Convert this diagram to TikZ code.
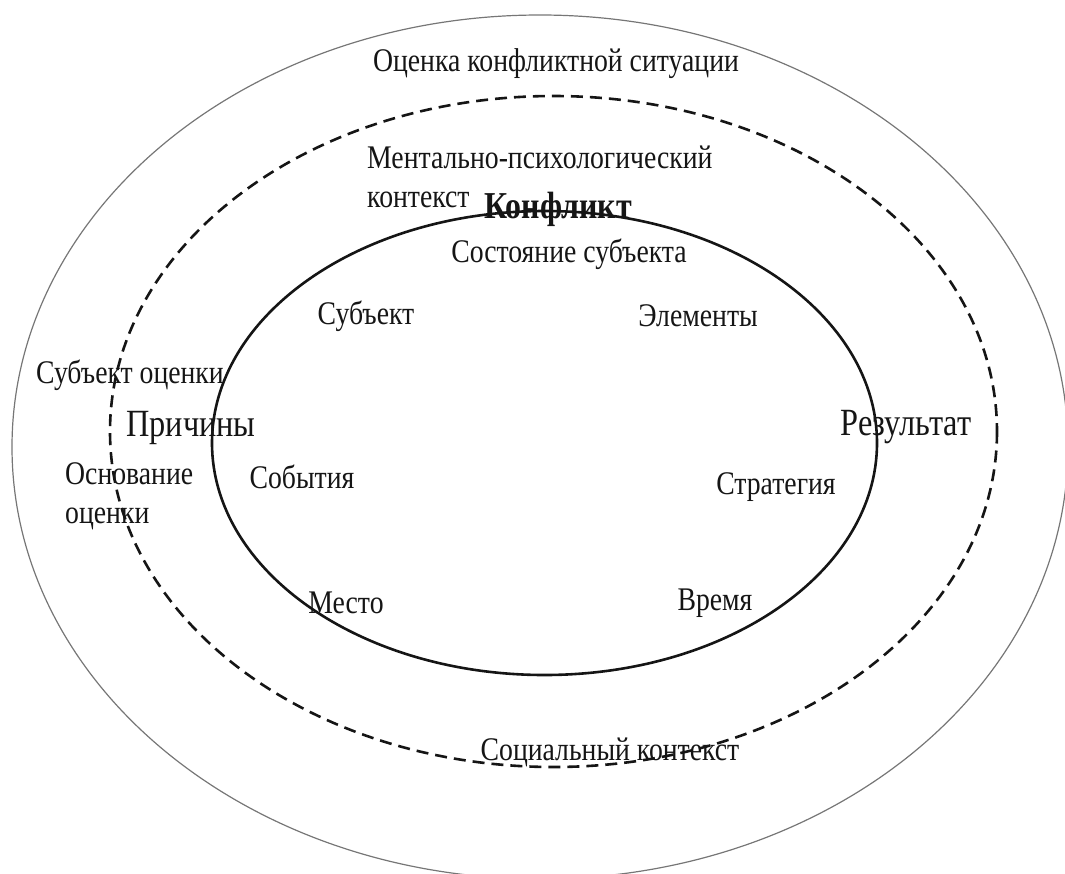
\documentclass[tikz,border=0pt]{standalone}
\usepackage{fontspec}
\setmainfont{Liberation Serif}[FakeStretch=0.84]
\definecolor{Ink}{HTML}{151515}
\definecolor{Rim}{HTML}{767676}
\tikzset{
  every node/.style={text=Ink, inner sep=0pt},
  lbl/.style={font=\fontsize{33}{39}\selectfont},
  biglbl/.style={font=\fontsize{38.5}{44}\selectfont},
  boldlbl/.style={font=\fontsize{38}{44}\selectfont\bfseries},
  outerring/.style={draw=Rim, line width=1.2pt},
  midring/.style={draw=Ink, line width=2.6pt, dash pattern=on 12pt off 7pt},
  corering/.style={draw=Ink, line width=2.6pt},
}

\begin{document}
\begin{tikzpicture}[x=1pt,y=-1pt]
  \useasboundingbox (0,0) rectangle (1065,873);

  % Three nested rings: assessment frame, context, conflict core.
  \draw[outerring] (540,447) ellipse [x radius=528, y radius=432];
  \draw[midring] (553.5,431.5) ellipse [x radius=443.5, y radius=335.5];
  \draw[corering] (544.5,443) ellipse [x radius=332.5, y radius=232];

  % Outer ring labels.
  \node[lbl] (assess) at (556,64) {Оценка конфликтной ситуации};
  \node[lbl] (assessor) at (130,375) {Субъект оценки};
  \node[lbl, align=left, anchor=west] (basis) at (65,496)
    {Основание\\оценки};

  % Context ring labels.
  \node[lbl, align=left, anchor=west] (mental) at (367,177)
    {Ментально-психологический\\контекст};
  \node[biglbl] (causes) at (191,428) {Причины};
  \node[biglbl] (result) at (906,427) {Результат};
  \node[lbl] (social) at (610,752) {Социальный контекст};

  % Core of the conflict.
  \node[boldlbl] (conflict) at (558,209) {Конфликт};
  \node[lbl] (state) at (569,254) {Состояние субъекта};
  \node[lbl] (subject) at (366,316) {Субъект};
  \node[lbl] (elements) at (698,316) {Элементы};
  \node[lbl] (events) at (302,477) {События};
  \node[lbl] (strategy) at (776,487) {Стратегия};
  \node[lbl] (place) at (346,603) {Место};
  \node[lbl] (time) at (715,603) {Время};
\end{tikzpicture}
\end{document}
